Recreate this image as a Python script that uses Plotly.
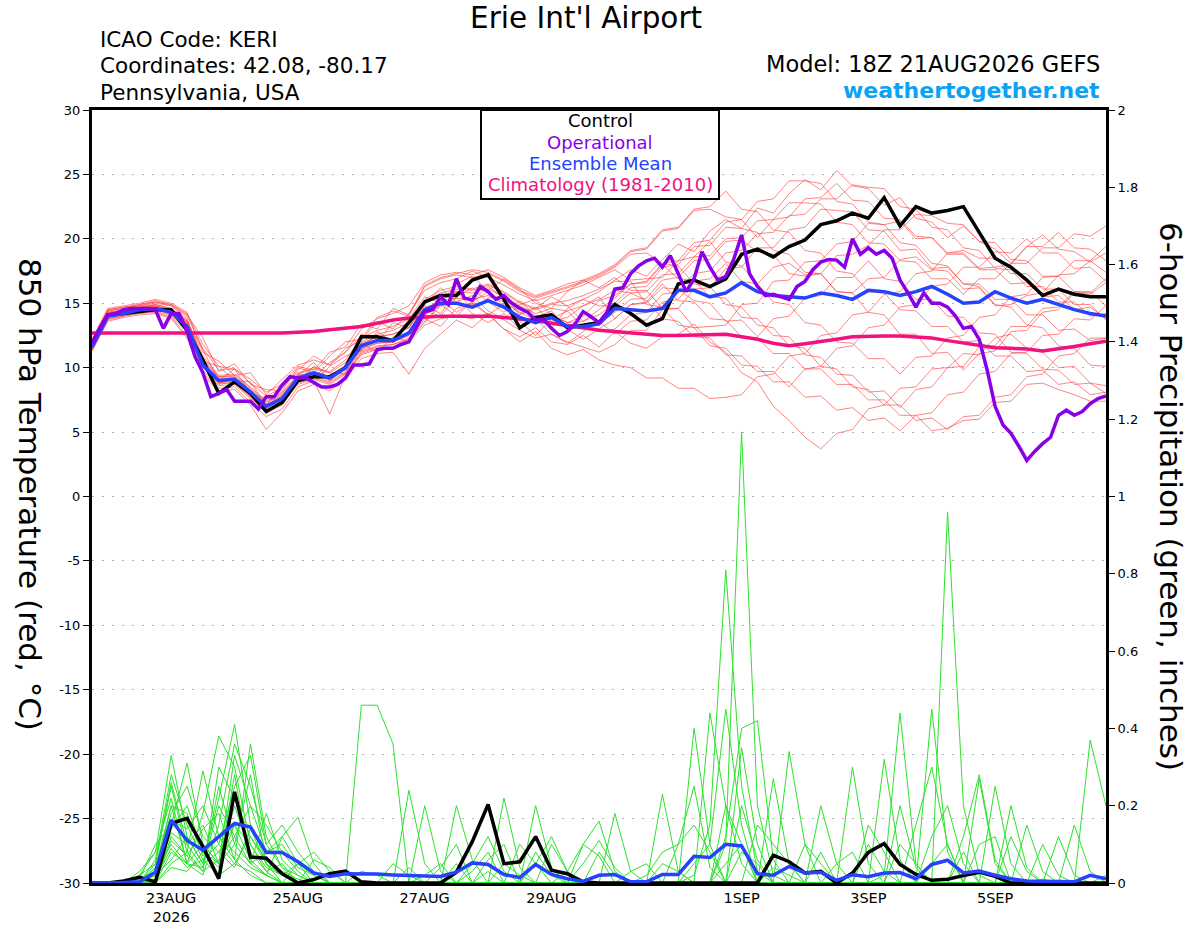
import pandas as pd
import plotly.graph_objects as go

# ---------------- time axes ----------------
times6 = pd.date_range("2026-08-21 18:00", periods=65, freq="6h")
times3 = pd.date_range("2026-08-21 18:00", periods=129, freq="3h")

tick_dates = ["2026-08-23", "2026-08-25", "2026-08-27", "2026-08-29", "2026-09-01", "2026-09-03", "2026-09-05"]
tick_text = ["23AUG<br>2026", "25AUG", "27AUG", "29AUG", "1SEP", "3SEP", "5SEP"]
temp_ticks = [-30, -25, -20, -15, -10, -5, 0, 5, 10, 15, 20, 25, 30]
prcp_ticks = [0, 0.2, 0.4, 0.6, 0.8, 1.0, 1.2, 1.4, 1.6, 1.8, 2.0]
prcp_tick_text = ["0", "0.2", "0.4", "0.6", "0.8", "1", "1.2", "1.4", "1.6", "1.8", "2"]

# ---------------- 850 hPa temperature (C) ----------------
ctrl_t = [11.9, 14.1, 14.2, 14.35, 14.5, 14.5, 12.9, 10.6, 8.0, 8.9, 8.0, 6.6, 7.3, 9.0, 9.3, 9.3, 10.0,
          12.4, 12.4, 12.1, 13.5, 15.1, 15.6, 15.6, 16.8, 17.2, 15.3, 13.1, 13.9, 14.1, 13.1, 13.3, 13.5,
          14.9, 14.2, 13.3, 13.8, 16.5, 16.8, 16.3, 16.9, 18.8, 19.2, 18.6, 19.4, 19.9, 21.1, 21.4, 22.0,
          21.6, 23.2, 21.0, 22.5, 22.0, 22.2, 22.5, 20.5, 18.5, 17.8, 16.8, 15.6, 16.1, 15.7, 15.5, 15.5]

mean_t = [11.6, 14.0, 14.2, 14.5, 14.6, 14.3, 13.2, 10.2, 9.0, 9.1, 8.1, 7.0, 7.6, 9.2, 9.6, 9.2, 10.0,
          11.7, 12.1, 12.1, 12.7, 14.5, 15.0, 15.0, 14.7, 15.2, 14.7, 13.9, 13.5, 13.9, 13.2, 13.2, 13.4,
          14.6, 14.5, 14.4, 14.6, 16.0, 16.0, 15.5, 15.8, 16.6, 15.9, 15.6, 15.5, 15.4, 15.8, 15.6, 15.3,
          16.0, 15.9, 15.6, 15.9, 16.3, 15.7, 15.0, 15.1, 15.9, 15.4, 15.0, 15.3, 14.9, 14.5, 14.2, 14.0]

clim_t = [12.7, 12.7, 12.7, 12.65, 12.65, 12.65, 12.65, 12.65, 12.65, 12.7,
          12.7, 12.7, 12.7, 12.75, 12.8, 12.95, 13.05, 13.2, 13.45, 13.7,
          13.85, 13.95, 14.0, 14.0, 14.0, 14.0, 13.9, 13.8, 13.65, 13.45,
          13.3, 13.1, 12.9, 12.8, 12.7, 12.6, 12.5, 12.5, 12.55, 12.6,
          12.6, 12.4, 12.2, 11.9, 11.7, 11.85, 12.0, 12.2, 12.4, 12.45,
          12.45, 12.45, 12.4, 12.3, 12.1, 11.9, 11.7, 11.55, 11.5, 11.45,
          11.3, 11.45, 11.65, 11.85, 12.05]

# operational run, 3-hourly
oper_t = [11.9, 13.1, 14.1, 14.2, 14.5, 14.6, 14.6, 14.6, 14.5, 13.05,
          14.2, 14.2, 12.8, 10.85, 9.6, 7.75, 8.0, 8.3, 7.4, 7.4,
          7.4, 6.8, 7.75, 7.75, 8.65, 9.3, 9.2, 9.2, 8.85, 8.5,
          8.5, 8.7, 9.2, 10.2, 10.2, 10.3, 11.4, 11.5, 11.5, 11.8,
          12.0, 13.2, 14.35, 14.5, 15.5, 14.9, 16.9, 15.4, 15.25, 16.3,
          15.9, 15.3, 15.6, 15.0, 14.6, 14.3, 13.7, 13.75, 13.05, 12.5,
          12.8, 13.4, 14.35, 13.95, 13.5,
          14.3, 16.1, 16.2, 17.3, 17.9, 18.3, 18.5, 17.8, 18.7, 17.3,
          15.9, 16.9, 19.0, 17.8, 16.8, 17.1, 18.4, 20.3, 17.3, 16.3,
          15.6, 15.7, 15.5, 15.3, 16.3, 16.7, 17.6, 18.2, 18.4, 18.35,
          17.8, 20.0, 18.8, 19.3, 18.8, 19.1, 18.5, 16.8, 15.8, 14.7,
          15.8, 15.0, 15.0, 14.7, 14.0, 13.05, 13.2, 12.2, 9.8, 7.0,
          5.55, 4.9, 3.9, 2.8, 3.5, 4.1, 4.6, 6.3, 6.7, 6.3,
          6.6, 7.2, 7.6, 7.8]

# ensemble members (6-hourly)
t01 = [11.8, 14.2, 14.5, 14.7, 14.9, 14.6, 13.5, 11.4, 9.0, 9.9, 8.0, 7.6, 7.4, 9.5, 9.9, 9.6, 10.4, 12.0, 12.6, 12.9, 13.5,
       15.2, 15.8, 16.1, 16.0, 16.4, 15.8, 15.0, 14.5, 14.9, 14.8, 15.3, 15.9,
       16.8, 17.6, 17.1, 18.4, 19.6, 19.0, 20.6, 21.5, 20.8, 22.4, 22.0, 23.5,
       24.6, 23.8, 25.3, 24.1, 23.9, 22.6, 23.2, 21.6, 21.3, 20.1,
       21.0, 19.8, 19.2, 18.1, 19.4, 20.3, 19.2, 19.0, 18.2, 18.9]
t02 = [11.5, 13.8, 14.0, 14.3, 14.4, 14.0, 12.8, 9.8, 8.6, 8.7, 7.6, 6.5, 7.1, 8.8, 9.2, 8.8, 9.6, 11.2, 11.6, 11.8, 12.2,
       13.6, 14.9, 14.0, 15.2, 14.1, 13.0, 12.4, 13.1, 12.0, 11.8, 12.5, 11.6,
       12.8, 11.9, 11.5, 12.4, 12.6, 13.4, 12.0, 11.2, 9.6, 8.9, 7.0, 5.9,
       4.6, 3.7, 4.9, 5.2, 6.8, 7.1, 8.4, 8.5, 9.9, 10.0,
       11.1, 11.0, 12.3, 12.6, 11.5, 11.2, 10.0, 10.1, 8.8, 8.6]
t03 = [12.0, 14.4, 14.6, 14.9, 15.2, 14.9, 14.0, 11.5, 9.8, 9.9, 8.8, 7.8, 8.4, 9.8, 10.9, 10.2, 11.5, 12.1, 13.6, 13.0, 14.2,
       16.0, 16.6, 16.9, 17.5, 17.0, 16.4, 15.7, 15.2, 15.6, 16.0, 16.4, 17.0,
       17.6, 16.8, 16.9, 17.0, 18.3, 18.6, 19.8, 18.2, 17.9, 16.5, 17.8, 18.1,
       17.2, 17.3, 15.9, 15.8, 16.9, 17.0, 18.4, 18.6, 17.6, 17.5,
       16.1, 16.2, 14.8, 14.9, 15.6, 15.8, 17.2, 17.3, 18.3, 17.4]
t04 = [11.4, 13.9, 14.3, 14.5, 14.6, 14.4, 13.2, 10.0, 8.8, 9.2, 8.0, 6.8, 7.4, 9.0, 9.5, 9.0, 9.9, 11.5, 11.9, 12.0, 12.5,
       14.1, 15.2, 15.9, 14.6, 15.4, 15.6, 14.2, 14.7, 13.6, 13.9, 14.8, 15.5,
       13.8, 14.9, 15.0, 16.2, 16.1, 15.2, 15.0, 13.6, 13.7, 12.4, 13.8, 14.0,
       15.4, 15.6, 17.0, 17.0, 18.3, 16.9, 16.7, 15.3, 15.3, 14.0,
       13.9, 12.7, 12.6, 11.2, 11.1, 9.9, 9.8, 8.7, 8.8, 8.0]
t05 = [11.7, 14.1, 14.3, 14.6, 14.8, 14.5, 13.4, 10.4, 9.1, 9.0, 8.1, 7.0, 7.8, 9.4, 8.8, 10.1, 10.9, 11.3, 12.8, 12.0, 13.4,
       14.6, 15.2, 15.4, 15.3, 15.6, 15.1, 14.3, 13.7, 14.0, 13.5, 13.6, 14.1,
       15.0, 16.2, 16.3, 17.8, 18.0, 19.4, 19.5, 20.9, 20.8, 20.5, 19.1, 18.8,
       17.4, 17.3, 15.9, 15.8, 14.3, 14.1, 12.6, 12.6, 11.1, 11.2,
       9.8, 11.1, 11.3, 12.8, 12.9, 14.3, 14.5, 15.8, 15.7, 16.6]
t06 = [12.1, 14.5, 14.7, 14.8, 15.0, 14.8, 13.8, 10.5, 10.1, 9.0, 8.9, 7.1, 8.6, 9.6, 10.0, 9.7, 10.6, 12.3, 12.9, 13.2, 13.8,
       15.5, 15.0, 16.5, 17.1, 16.0, 16.9, 16.1, 15.0, 14.6, 15.9, 16.8, 16.2,
       17.0, 16.0, 16.0, 14.6, 14.6, 13.1, 13.2, 13.3, 14.9, 15.0, 16.7, 16.8,
       18.2, 18.3, 19.6, 19.8, 21.2, 21.1, 21.4, 20.0, 20.1, 18.9,
       18.9, 17.7, 17.8, 18.0, 19.4, 19.4, 20.5, 19.3, 19.2, 18.3]
t07 = [11.3, 13.7, 14.0, 14.2, 14.3, 13.9, 12.5, 9.6, 8.4, 8.5, 7.3, 6.2, 6.8, 8.5, 9.0, 6.4, 9.4, 11.0, 11.4, 11.5, 12.0,
       13.3, 13.8, 14.0, 13.8, 14.2, 13.7, 12.9, 12.3, 12.6, 12.0, 11.6, 11.2,
       11.8, 12.9, 12.9, 14.5, 14.6, 16.1, 16.2, 17.7, 17.8, 19.3, 19.3, 20.7,
       20.9, 22.3, 22.2, 22.1, 20.7, 20.6, 19.1, 19.2, 17.7, 17.8,
       16.5, 16.5, 15.3, 15.3, 14.1, 14.1, 12.9, 13.0, 12.1, 12.3]
t08 = [11.9, 14.3, 14.4, 14.6, 14.7, 14.5, 13.6, 10.6, 9.3, 9.3, 8.3, 7.2, 7.9, 9.3, 9.7, 9.3, 10.1, 11.8, 12.4, 12.6, 13.1,
       14.9, 16.2, 15.1, 15.6, 14.4, 13.8, 14.9, 15.3, 14.1, 13.5, 14.0, 15.2,
       15.6, 16.5, 16.6, 18.0, 16.9, 16.8, 15.5, 15.4, 13.9, 13.8, 12.5, 12.4,
       11.0, 10.8, 9.5, 9.4, 8.1, 8.2, 6.9, 8.3, 8.5, 10.0,
       10.1, 11.6, 11.7, 13.2, 13.2, 14.6, 14.7, 15.9, 15.8, 16.9]
t09 = [11.6, 14.0, 14.2, 14.4, 14.6, 14.2, 13.0, 10.2, 8.9, 9.1, 7.9, 6.7, 7.3, 9.0, 10.1, 9.6, 9.5, 11.9, 11.2, 12.4, 12.0,
       14.2, 14.8, 15.0, 14.9, 15.2, 14.7, 14.0, 13.5, 13.8, 13.2, 13.0, 13.4,
       14.3, 15.3, 15.4, 16.8, 17.0, 18.3, 18.4, 19.8, 19.9, 19.0, 18.8, 17.3,
       17.1, 17.3, 18.7, 18.8, 19.5, 20.7, 20.7, 21.9, 21.8, 21.2,
       21.1, 19.8, 19.7, 18.4, 18.3, 17.1, 17.1, 15.9, 15.9, 14.8]
t10 = [12.2, 14.6, 14.8, 15.0, 15.3, 15.0, 14.3, 11.2, 10.5, 9.4, 9.6, 7.9, 9.1, 10.2, 10.6, 10.2, 11.2, 13.0, 13.8, 14.2, 14.8,
       16.6, 17.2, 17.4, 17.2, 17.6, 17.0, 16.2, 15.6, 16.0, 16.5, 16.8, 17.3,
       18.0, 19.1, 19.3, 20.7, 20.9, 22.3, 22.5, 23.7, 22.3, 22.1, 20.7, 20.5,
       19.1, 18.9, 17.5, 17.3, 15.9, 15.8, 14.5, 14.4, 13.2, 13.2,
       12.0, 12.1, 10.9, 10.9, 9.7, 9.8, 8.7, 8.9, 7.9, 8.1]
t11 = [11.5, 13.9, 14.1, 14.4, 14.5, 14.1, 12.9, 10.0, 8.7, 8.9, 7.8, 6.6, 7.2, 8.9, 9.3, 8.9, 9.7, 11.3, 11.7, 11.8, 12.3,
       13.8, 13.2, 14.6, 15.0, 14.1, 14.9, 13.6, 12.5, 13.8, 14.4, 13.2, 12.8,
       13.0, 14.1, 14.3, 15.7, 15.9, 17.3, 17.5, 18.9, 19.1, 20.4, 20.5, 21.8,
       21.9, 23.1, 23.1, 24.2, 24.0, 23.9, 22.5, 22.3, 20.9, 20.7,
       19.3, 19.1, 17.7, 17.6, 16.3, 16.3, 15.1, 15.1, 14.0, 14.2]
t12 = [11.8, 14.2, 14.4, 14.7, 14.9, 14.6, 13.7, 10.9, 9.4, 9.5, 8.5, 7.4, 8.1, 9.5, 9.2, 10.4, 11.2, 12.5, 12.0, 13.5, 13.1,
       15.3, 16.0, 16.3, 16.1, 16.5, 15.9, 15.1, 14.6, 15.0, 15.2, 15.6, 16.1,
       16.7, 16.7, 14.9, 14.7, 13.3, 13.1, 11.7, 11.5, 10.2, 10.1, 8.9, 8.9,
       7.7, 7.8, 6.7, 6.9, 5.9, 6.1, 5.1, 6.3, 6.5, 7.9,
       8.1, 9.5, 9.7, 11.1, 11.2, 12.5, 12.6, 13.8, 13.7, 14.8]
t13 = [11.4, 13.8, 14.1, 14.3, 14.5, 14.2, 13.1, 10.1, 8.8, 8.8, 7.7, 6.6, 7.2, 8.7, 9.1, 8.7, 9.5, 11.1, 11.5, 11.6, 12.1,
       13.5, 14.8, 15.4, 14.2, 13.5, 14.2, 13.0, 13.8, 12.6, 11.9, 12.8, 13.6,
       12.6, 13.6, 13.7, 15.1, 15.3, 16.7, 16.9, 18.1, 16.7, 16.5, 15.1, 14.9,
       13.5, 13.3, 12.0, 11.9, 10.7, 10.7, 9.5, 10.8, 10.9, 12.3,
       12.5, 13.9, 14.1, 15.5, 15.7, 17.0, 17.1, 18.3, 18.3, 19.4]
t14 = [12.0, 14.4, 14.6, 14.8, 15.1, 14.8, 14.1, 12.3, 9.7, 10.3, 8.7, 8.3, 8.2, 10.0, 9.6, 10.9, 12.0, 12.2, 13.9, 14.4, 14.0,
       16.3, 16.9, 17.2, 17.0, 17.3, 16.7, 15.9, 15.4, 15.8, 16.2, 16.6, 17.1,
       17.8, 18.8, 18.9, 18.1, 17.9, 16.5, 16.3, 14.9, 14.7, 13.3, 13.1, 11.7,
       11.5, 10.1, 9.9, 8.5, 8.3, 7.1, 7.1, 5.9, 6.1, 5.2,
       6.2, 6.3, 7.7, 7.9, 9.3, 9.5, 10.9, 11.1, 12.3, 12.3]
t15 = [11.6, 14.0, 14.3, 14.5, 14.7, 14.3, 13.3, 10.3, 9.0, 9.2, 8.0, 6.9, 7.6, 9.2, 9.6, 9.2, 10.0, 11.6, 12.1, 12.2, 12.7,
       14.4, 14.0, 15.5, 16.2, 15.1, 14.3, 15.2, 14.0, 13.1, 14.6, 15.3, 14.8,
       14.8, 15.8, 15.9, 17.2, 17.3, 18.6, 18.7, 20.0, 20.1, 21.4, 21.5, 22.8,
       22.8, 22.7, 21.3, 21.1, 19.7, 19.6, 18.3, 18.2, 16.9, 16.9,
       15.7, 16.9, 16.9, 18.1, 18.1, 19.3, 19.3, 20.4, 20.2, 21.0]
t16 = [11.9, 14.3, 14.5, 14.7, 14.8, 14.5, 13.6, 10.7, 9.3, 9.4, 8.4, 7.3, 8.0, 9.4, 10.4, 9.0, 10.0, 12.6, 12.2, 12.0, 13.8,
       15.0, 15.6, 15.9, 15.8, 16.1, 15.5, 14.8, 14.2, 14.6, 14.4, 14.8, 15.3,
       16.0, 15.8, 15.2, 13.8, 13.6, 12.4, 12.3, 11.0, 10.9, 9.7, 9.7, 8.5,
       9.9, 10.1, 11.5, 11.7, 13.1, 13.3, 14.7, 14.9, 16.3, 16.5,
       17.8, 17.8, 19.0, 18.9, 20.0, 18.9, 18.9, 17.7, 17.8, 16.7]
t17 = [11.3, 13.6, 13.9, 14.1, 14.2, 13.8, 12.3, 9.4, 8.2, 8.3, 7.1, 5.2, 6.5, 8.2, 8.7, 8.2, 9.1, 10.7, 11.1, 11.2, 9.5,
       11.5, 12.6, 13.7, 13.1, 14.2, 13.0, 12.0, 12.8, 11.5, 11.0, 11.4, 10.6,
       10.2, 10.0, 9.2, 9.2, 8.4, 8.4, 7.6, 7.7, 7.9, 9.3, 9.5, 10.9,
       11.1, 12.5, 12.7, 14.1, 14.3, 15.7, 15.9, 17.3, 17.5, 18.9,
       19.1, 18.5, 18.5, 17.3, 17.3, 16.1, 16.1, 14.9, 14.9, 13.7]
t18 = [12.1, 14.5, 14.7, 14.9, 15.1, 14.9, 14.2, 11.8, 10.1, 9.9, 9.1, 8.1, 8.7, 10.1, 9.8, 11.2, 11.6, 13.4, 13.0, 14.6, 14.1,
       16.4, 17.0, 17.3, 17.6, 17.4, 16.8, 16.0, 15.5, 15.9, 16.3, 16.7, 17.2,
       17.9, 19.0, 19.2, 20.6, 20.8, 22.2, 22.3, 21.7, 21.5, 20.1, 21.5, 21.7,
       23.1, 23.2, 24.3, 23.0, 22.9, 21.6, 21.5, 20.2, 20.1, 18.8,
       18.8, 17.6, 17.6, 16.5, 16.6, 15.5, 15.6, 14.5, 14.7, 13.8]
t19 = [11.5, 13.9, 14.2, 14.4, 14.5, 14.2, 13.0, 10.1, 8.8, 9.0, 7.8, 6.7, 7.4, 9.1, 9.5, 9.1, 9.9, 11.4, 11.9, 12.0, 12.5,
       14.0, 15.3, 14.3, 15.1, 15.9, 14.8, 13.2, 13.9, 14.4, 13.0, 12.2, 13.0,
       13.8, 14.9, 15.1, 16.5, 15.2, 15.1, 13.8, 13.7, 12.4, 12.3, 11.1, 11.1,
       9.9, 9.9, 8.7, 8.7, 7.5, 7.5, 6.3, 6.3, 5.1, 5.3,
       5.9, 6.0, 7.3, 7.4, 8.7, 8.8, 8.3, 7.9, 7.4, 7.4]
t20 = [11.7, 14.1, 14.4, 14.6, 14.8, 14.4, 13.5, 10.5, 9.2, 9.2, 8.2, 7.1, 7.8, 9.3, 9.7, 9.3, 10.2, 11.9, 12.4, 12.6, 13.1,
       14.8, 14.2, 15.9, 15.1, 16.3, 15.4, 14.1, 14.6, 15.5, 14.8, 13.6, 14.5,
       15.4, 16.5, 16.7, 18.1, 18.3, 19.7, 19.9, 21.3, 21.5, 22.9, 23.1, 24.5,
       24.5, 24.3, 22.9, 22.7, 21.3, 21.1, 19.7, 19.5, 18.1, 17.9,
       16.5, 16.3, 14.9, 14.7, 13.3, 13.1, 11.7, 11.5, 10.2, 10.1]
temp_members = [t01, t02, t03, t04, t05, t06, t07, t08, t09, t10,
                t11, t12, t13, t14, t15, t16, t17, t18, t19, t20]

# ---------------- 6-hour precipitation (in) ----------------
ctrl_p = [0, 0, 0.005, 0.015, 0.003, 0.154, 0.167, 0.094, 0.011, 0.236, 0.067, 0.064, 0.024, 0, 0.009, 0.024,
          0.031, 0.003, 0, 0, 0, 0, 0, 0.028, 0.107, 0.203, 0.05, 0.055, 0.12, 0.033, 0.024, 0.003, 0,
          0, 0, 0, 0, 0, 0, 0, 0, 0, 0, 0.072, 0.055, 0.026, 0.030, 0, 0.026, 0.079, 0.102, 0.048,
          0.022, 0.007, 0.010, 0.019, 0.028, 0.017, 0, 0, 0, 0, 0, 0, 0]
mean_p = [0, 0, 0.001, 0.003, 0.028, 0.163, 0.11, 0.085, 0.12, 0.154, 0.145, 0.079, 0.079, 0.055, 0.026, 0.017,
          0.024, 0.024, 0.023, 0.021, 0.019, 0.017, 0.017, 0.028, 0.052, 0.048, 0.022, 0.014, 0.048, 0.022, 0.011,
          0.004, 0.02, 0.022, 0.003, 0.003, 0.022, 0.022, 0.069, 0.066, 0.1, 0.096, 0.024, 0.02, 0.043, 0.026,
          0.028, 0.007, 0.021, 0.016, 0.026, 0.027, 0.011, 0.048, 0.059, 0.026, 0.031, 0.02, 0.011, 0.005, 0.005,
          0.005, 0.003, 0.02, 0.011]

# members: {6-hour step index: amount}, all other steps are 0
p01 = {3: 0.02, 4: 0.08, 5: 0.33, 6: 0.12, 7: 0.05, 8: 0.22, 9: 0.41, 10: 0.15, 11: 0.06, 12: 0.03, 13: 0.01,
       24: 0.05, 25: 0.12, 26: 0.03, 38: 0.02, 39: 0.15, 40: 0.81, 41: 0.25, 42: 0.03, 50: 0.02, 51: 0.44, 52: 0.05, 60: 0.01}
p02 = {4: 0.05, 5: 0.25, 6: 0.08, 7: 0.29, 8: 0.12, 9: 0.06, 10: 0.36, 11: 0.12, 12: 0.04, 13: 0.02,
       17: 0.46, 18: 0.46, 19: 0.36, 28: 0.08, 29: 0.02, 40: 0.1, 41: 1.167, 42: 0.2, 43: 0.02,
       53: 0.45, 54: 0.08, 63: 0.37, 64: 0.2}
p03 = {3: 0.01, 4: 0.1, 5: 0.15, 6: 0.31, 7: 0.1, 8: 0.05, 9: 0.33, 10: 0.2, 11: 0.08, 12: 0.1, 13: 0.04, 14: 0.02,
       20: 0.24, 21: 0.05, 33: 0.18, 34: 0.03, 43: 0.27, 44: 0.05, 56: 0.27, 57: 0.05}
p04 = {4: 0.03, 5: 0.2, 6: 0.05, 7: 0.18, 8: 0.38, 9: 0.3, 10: 0.1, 11: 0.04, 12: 0.02,
       21: 0.2, 22: 0.03, 30: 0.03, 31: 0.1, 32: 0.16, 33: 0.03, 38: 0.4, 39: 0.1, 48: 0.3, 49: 0.05}
p05 = {4: 0.06, 5: 0.28, 6: 0.15, 7: 0.06, 8: 0.1, 9: 0.25, 10: 0.33, 11: 0.1, 12: 0.15, 13: 0.08, 14: 0.03,
       23: 0.2, 24: 0.06, 41: 0.35, 42: 0.1, 54: 0.96, 55: 0.2, 56: 0.02}
p06 = {3: 0.03, 4: 0.08, 5: 0.22, 6: 0.05, 7: 0.04, 8: 0.2, 9: 0.12, 10: 0.05, 11: 0.18, 12: 0.06, 13: 0.02,
       26: 0.22, 27: 0.04, 36: 0.23, 37: 0.03, 44: 0.34, 45: 0.1, 59: 0.15, 60: 0.03}
p07 = {4: 0.04, 5: 0.18, 6: 0.25, 7: 0.12, 8: 0.08, 9: 0.15, 10: 0.06, 11: 0.02, 12: 0.12, 13: 0.17, 14: 0.05,
       28: 0.2, 29: 0.04, 39: 0.44, 40: 0.2, 41: 0.05, 50: 0.32, 51: 0.06}
p08 = {5: 0.12, 6: 0.07, 7: 0.03, 8: 0.3, 9: 0.22, 10: 0.12, 11: 0.05, 12: 0.02, 13: 0.05, 14: 0.08, 15: 0.03,
       25: 0.06, 26: 0.1, 40: 0.12, 41: 0.4, 42: 0.42, 43: 0.06, 53: 0.12, 54: 0.2, 55: 0.05}
p09 = {4: 0.02, 5: 0.14, 6: 0.2, 7: 0.08, 8: 0.05, 9: 0.1, 10: 0.28, 11: 0.05, 12: 0.02,
       22: 0.04, 23: 0.1, 31: 0.05, 32: 0.11, 33: 0.04, 46: 0.2, 47: 0.05, 62: 0.15, 63: 0.03}
p10 = {3: 0.02, 4: 0.05, 5: 0.26, 6: 0.1, 7: 0.15, 8: 0.05, 9: 0.2, 10: 0.08, 11: 0.03, 12: 0.05,
       19: 0.05, 20: 0.02, 35: 0.02, 36: 0.08, 37: 0.1, 38: 0.15, 39: 0.08, 51: 0.2, 52: 0.04}
p11 = {5: 0.16, 6: 0.14, 7: 0.2, 8: 0.1, 9: 0.05, 10: 0.12, 11: 0.06, 12: 0.02,
       27: 0.1, 28: 0.05, 42: 0.15, 43: 0.1, 44: 0.05, 52: 0.15, 53: 0.3, 54: 0.1, 57: 0.25, 58: 0.05}
p12 = {4: 0.03, 5: 0.1, 6: 0.05, 7: 0.02, 8: 0.15, 9: 0.36, 10: 0.25, 11: 0.1, 12: 0.04,
       24: 0.03, 25: 0.08, 37: 0.1, 38: 0.25, 39: 0.04, 49: 0.1, 50: 0.03}
p13 = {4: 0.04, 5: 0.2, 6: 0.18, 7: 0.07, 8: 0.12, 9: 0.08, 10: 0.04, 11: 0.02, 13: 0.05, 14: 0.02,
       29: 0.1, 30: 0.03, 41: 0.08, 42: 0.05, 55: 0.12, 56: 0.28, 57: 0.06, 61: 0.12, 62: 0.02}
p14 = {5: 0.08, 6: 0.05, 7: 0.1, 8: 0.05, 9: 0.15, 10: 0.1, 11: 0.03, 17: 0.03, 18: 0.02,
       34: 0.03, 35: 0.05, 45: 0.1, 46: 0.05, 58: 0.12, 59: 0.03}
p15 = {4: 0.02, 5: 0.13, 6: 0.1, 7: 0.04, 8: 0.25, 9: 0.1, 10: 0.05, 11: 0.08, 12: 0.12, 13: 0.05,
       23: 0.05, 40: 0.2, 41: 0.1, 47: 0.05, 48: 0.08, 60: 0.1, 61: 0.02}
p16 = {5: 0.05, 6: 0.08, 7: 0.03, 8: 0.06, 9: 0.12, 10: 0.2, 11: 0.15, 12: 0.08, 13: 0.03,
       26: 0.05, 27: 0.02, 38: 0.05, 39: 0.1, 40: 0.45, 41: 0.15, 53: 0.05, 54: 0.1}
p17 = {4: 0.01, 5: 0.09, 6: 0.04, 7: 0.06, 8: 0.02, 9: 0.05, 10: 0.03, 21: 0.02, 22: 0.05,
       32: 0.08, 33: 0.02, 43: 0.04, 44: 0.02, 51: 0.1, 52: 0.05, 64: 0.02}
p18 = {5: 0.11, 6: 0.07, 7: 0.14, 8: 0.18, 9: 0.06, 10: 0.02, 14: 0.06, 15: 0.04, 25: 0.03,
       36: 0.05, 37: 0.03, 49: 0.15, 50: 0.08, 56: 0.1, 57: 0.12}
p19 = {4: 0.02, 5: 0.06, 6: 0.12, 7: 0.05, 8: 0.08, 9: 0.04, 10: 0.14, 11: 0.05,
       28: 0.05, 29: 0.12, 30: 0.03, 41: 0.2, 42: 0.06, 55: 0.08}
p20 = {5: 0.04, 6: 0.03, 7: 0.08, 8: 0.04, 9: 0.28, 10: 0.05, 11: 0.02, 20: 0.04,
       31: 0.1, 32: 0.07, 40: 0.05, 41: 0.1, 46: 0.08, 58: 0.2, 59: 0.04}
prcp_members = [p01, p02, p03, p04, p05, p06, p07, p08, p09, p10,
                p11, p12, p13, p14, p15, p16, p17, p18, p19, p20]

# ---------------- styling ----------------
FONT = "DejaVu Sans"
C_CTRL = "#000000"
C_OPER = "#8A00E6"
C_MEAN = "#2542FF"
C_CLIM = "#F0127F"
C_RED = "rgba(255,60,60,0.7)"
C_GREEN = "rgb(45,225,45)"

fig = go.Figure()

for m in temp_members:
    fig.add_trace(go.Scatter(x=times6, y=m, mode="lines", line=dict(color=C_RED, width=0.9), yaxis="y"))
for m in prcp_members:
    vals = [m.get(i, 0.0) for i in range(len(times6))]
    fig.add_trace(go.Scatter(x=times6, y=vals, mode="lines", line=dict(color=C_GREEN, width=1), yaxis="y2"))

fig.add_trace(go.Scatter(x=times6, y=clim_t, mode="lines", line=dict(color=C_CLIM, width=3.5), yaxis="y"))
fig.add_trace(go.Scatter(x=times6, y=ctrl_p, mode="lines", line=dict(color=C_CTRL, width=3.5), yaxis="y2"))
fig.add_trace(go.Scatter(x=times6, y=mean_p, mode="lines", line=dict(color=C_MEAN, width=3.5), yaxis="y2"))
fig.add_trace(go.Scatter(x=times6, y=ctrl_t, mode="lines", line=dict(color=C_CTRL, width=3.5), yaxis="y"))
fig.add_trace(go.Scatter(x=times6, y=mean_t, mode="lines", line=dict(color=C_MEAN, width=3.5), yaxis="y"))
fig.add_trace(go.Scatter(x=times3, y=oper_t, mode="lines", line=dict(color=C_OPER, width=3.5), yaxis="y"))

L, R, T, B = 92, 1106, 110, 883
W, H = R - L, B - T


def px(x):
    return (x - L) / W


def py(y):
    return (B - y) / H


fig.update_layout(
    width=1200, height=927,
    margin=dict(l=L, r=1200 - R, t=T, b=927 - B, pad=0, autoexpand=False),
    paper_bgcolor="white", plot_bgcolor="white",
    showlegend=False, hovermode=False,
    font=dict(family=FONT, color="black", size=13),
    xaxis=dict(
        type="date", range=[times6[0], times6[-1]], automargin=False,
        tickvals=tick_dates, ticktext=tick_text, tickfont=dict(size=14.5),
        showline=True, linecolor="black", linewidth=3, mirror=True,
        ticks="", showgrid=False, zeroline=False,
    ),
    yaxis=dict(
        range=[-30, 30], tickvals=temp_ticks, ticktext=[str(v) for v in temp_ticks], automargin=False,
        ticks="outside", ticklen=6, tickwidth=1, tickcolor="black", tickfont=dict(size=13),
        showline=True, linecolor="black", linewidth=3, mirror=True,
        showgrid=True, gridcolor="#b0b0b0", gridwidth=1, griddash="2px,8px", zeroline=False,
    ),
    yaxis2=dict(
        range=[0, 2], overlaying="y", side="right", automargin=False,
        tickvals=prcp_ticks, ticktext=prcp_tick_text,
        ticks="outside", ticklen=6, tickwidth=1, tickcolor="black", tickfont=dict(size=13),
        showline=True, linecolor="black", linewidth=3, showgrid=False, zeroline=False,
    ),
)

# legend box
fig.add_shape(type="rect", xref="paper", yref="paper",
              x0=px(481), x1=px(719), y0=py(199), y1=py(110),
              fillcolor="white", line=dict(color="black", width=2), layer="above")

legend_items = [("Control", C_CTRL, 121), ("Operational", C_OPER, 142),
                ("Ensemble Mean", C_MEAN, 163.5), ("Climatology (1981-2010)", C_CLIM, 185)]
for txt, col, yy in legend_items:
    fig.add_annotation(text=txt, xref="paper", yref="paper", x=px(600), y=py(yy),
                       xanchor="center", yanchor="middle", showarrow=False,
                       font=dict(family=FONT, size=18, color=col))

# header texts
fig.add_annotation(text="Erie Int'l Airport", xref="paper", yref="paper", x=px(586), y=py(18),
                   xanchor="center", yanchor="middle", showarrow=False,
                   font=dict(family=FONT, size=29.5, color="black"))
for txt, yy in [("ICAO Code: KERI", 40), ("Coordinates: 42.08, -80.17", 66), ("Pennsylvania, USA", 93)]:
    fig.add_annotation(text=txt, xref="paper", yref="paper", x=px(98), y=py(yy),
                       xanchor="left", yanchor="middle", showarrow=False,
                       font=dict(family=FONT, size=21.5, color="black"))
fig.add_annotation(text="Model: 18Z 21AUG2026 GEFS", xref="paper", yref="paper", x=px(1102), y=py(64),
                   xanchor="right", yanchor="middle", showarrow=False,
                   font=dict(family=FONT, size=22.5, color="black"))
fig.add_annotation(text="<b>weathertogether.net</b>", xref="paper", yref="paper", x=px(1102), y=py(90),
                   xanchor="right", yanchor="middle", showarrow=False,
                   font=dict(family=FONT, size=22, color="#0AA2F5"))

# axis titles (rotated clockwise, as in the reference)
fig.add_annotation(text="850 hPa Temperature (red, °C)", xref="paper", yref="paper",
                   x=px(30), y=py(494), xanchor="center", yanchor="middle", textangle=90,
                   showarrow=False, font=dict(family=FONT, size=31, color="black"))
fig.add_annotation(text="6-hour Precipitation (green, inches)", xref="paper", yref="paper",
                   x=px(1171), y=py(496), xanchor="center", yanchor="middle", textangle=90,
                   showarrow=False, font=dict(family=FONT, size=31, color="black"))

fig.write_html("out.html", config={"displayModeBar": False},
               post_script="document.body.style.margin='0';document.body.style.overflow='hidden';")
